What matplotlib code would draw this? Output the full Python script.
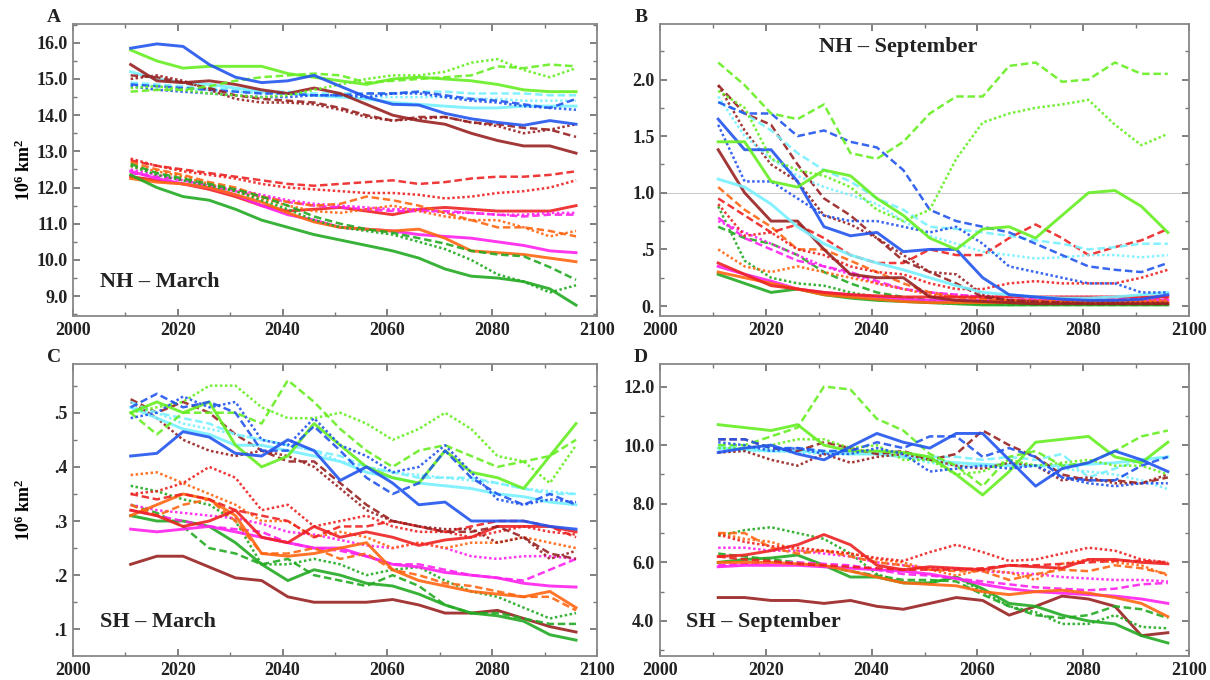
import matplotlib
matplotlib.use('Agg')
import matplotlib.pyplot as plt
from matplotlib.ticker import MultipleLocator, FuncFormatter

plt.rcParams['font.family'] = ['Liberation Serif', 'DejaVu Serif']
plt.rcParams['font.weight'] = 'bold'
plt.rcParams['mathtext.fontset'] = 'custom'
plt.rcParams['mathtext.rm'] = 'Liberation Serif:bold'
plt.rcParams['mathtext.bf'] = 'Liberation Serif:bold'
plt.rcParams['mathtext.default'] = 'bf'

years = list(range(2011, 2097, 5))   # 2011, 2016, ... 2096

colors = {'lime': '#66ee22', 'blue': '#2255ee', 'cyan': '#77f0ff', 'brown': '#992222',
          'red': '#ee2222', 'orange': '#ff6611', 'magenta': '#ff22ee', 'green': '#22aa22'}

# A: NH March
nh_march = {
    'red dash':      [12.75, 12.6, 12.5, 12.4, 12.3, 12.2, 12.1, 12.05, 12.1, 12.15, 12.2, 12.1, 12.15, 12.25, 12.3, 12.3, 12.35, 12.45],
    'red dot':       [12.8, 12.6, 12.45, 12.35, 12.25, 12.1, 12.0, 11.95, 11.9, 11.85, 11.85, 11.8, 11.7, 11.75, 11.85, 11.9, 12.0, 12.2],
    'red solid':     [12.3, 12.2, 12.1, 11.95, 11.75, 11.5, 11.35, 11.4, 11.45, 11.35, 11.25, 11.4, 11.45, 11.4, 11.35, 11.35, 11.35, 11.5],
    'magenta dash':  [12.4, 12.3, 12.2, 12.05, 11.9, 11.75, 11.6, 11.5, 11.45, 11.4, 11.35, 11.35, 11.35, 11.3, 11.25, 11.2, 11.25, 11.25],
    'magenta dot':   [12.5, 12.35, 12.2, 12.05, 11.95, 11.8, 11.65, 11.55, 11.5, 11.45, 11.4, 11.4, 11.3, 11.3, 11.25, 11.25, 11.3, 11.3],
    'magenta solid': [12.45, 12.25, 12.1, 12.0, 11.8, 11.5, 11.25, 11.1, 10.9, 10.85, 10.8, 10.7, 10.65, 10.6, 10.5, 10.4, 10.25, 10.2],
    'orange dash':   [12.7, 12.5, 12.35, 12.15, 12.0, 11.75, 11.6, 11.5, 11.55, 11.75, 11.65, 11.5, 11.3, 11.1, 10.9, 10.9, 10.8, 10.65],
    'orange dot':    [12.6, 12.45, 12.3, 12.1, 11.9, 11.7, 11.5, 11.35, 11.3, 11.4, 11.5, 11.35, 11.2, 11.1, 11.1, 10.9, 10.65, 10.8],
    'orange solid':  [12.25, 12.15, 12.1, 12.0, 11.8, 11.6, 11.3, 11.05, 10.9, 10.85, 10.8, 10.85, 10.6, 10.25, 10.2, 10.15, 10.05, 9.95],
    'green dash':    [12.65, 12.4, 12.25, 12.1, 11.95, 11.75, 11.5, 11.2, 11.0, 10.85, 10.75, 10.6, 10.45, 10.25, 10.15, 10.1, 9.8, 9.45],
    'green dot':     [12.6, 12.35, 12.2, 12.05, 11.9, 11.65, 11.4, 11.1, 10.9, 10.8, 10.7, 10.5, 10.3, 10.0, 9.6, 9.4, 9.1, 9.3],
    'green solid':   [12.35, 12.0, 11.75, 11.65, 11.4, 11.1, 10.9, 10.7, 10.55, 10.4, 10.25, 10.05, 9.75, 9.55, 9.5, 9.4, 9.2, 8.75],
    'cyan dash':     [14.9, 14.85, 14.8, 14.75, 14.7, 14.65, 14.65, 14.6, 14.6, 14.6, 14.6, 14.65, 14.65, 14.6, 14.6, 14.6, 14.55, 14.55],
    'cyan dot':      [14.85, 14.8, 14.75, 14.7, 14.65, 14.6, 14.6, 14.55, 14.55, 14.5, 14.5, 14.5, 14.5, 14.45, 14.45, 14.4, 14.4, 14.4],
    'cyan solid':    [15.2, 15.0, 14.9, 14.85, 14.75, 14.65, 14.6, 14.55, 14.5, 14.45, 14.35, 14.3, 14.25, 14.2, 14.2, 14.25, 14.25, 14.25],
    'blue dash':     [14.85, 14.8, 14.75, 14.7, 14.65, 14.6, 14.6, 14.55, 14.55, 14.6, 14.6, 14.65, 14.55, 14.45, 14.4, 14.3, 14.2, 14.45],
    'blue dot':      [14.8, 14.7, 14.65, 14.6, 14.55, 14.5, 14.5, 14.55, 14.55, 14.5, 14.6, 14.6, 14.5, 14.4, 14.35, 14.25, 14.2, 14.15],
    'brown dash':    [15.1, 15.05, 14.9, 14.75, 14.55, 14.45, 14.4, 14.35, 14.2, 14.0, 13.85, 13.95, 13.95, 13.8, 13.75, 13.65, 13.6, 13.4],
    'brown dot':     [15.0, 15.1, 14.95, 14.7, 14.45, 14.35, 14.35, 14.3, 14.15, 13.95, 13.85, 13.9, 13.95, 13.8, 13.7, 13.5, 13.6, 13.75],
    'brown solid':   [15.4, 14.95, 14.9, 14.95, 14.85, 14.7, 14.6, 14.75, 14.6, 14.3, 14.0, 13.85, 13.75, 13.5, 13.3, 13.15, 13.15, 12.95],
    'lime dash':     [14.65, 14.7, 14.7, 14.8, 14.95, 15.05, 15.1, 15.15, 15.1, 14.9, 14.95, 15.0, 15.05, 15.1, 15.35, 15.3, 15.4, 15.35],
    'lime dot':      [14.75, 14.8, 14.7, 14.6, 14.55, 14.5, 14.55, 14.7, 14.85, 15.0, 15.1, 15.1, 15.2, 15.45, 15.55, 15.25, 15.05, 15.3],
    'lime solid':    [15.8, 15.5, 15.3, 15.35, 15.35, 15.35, 15.15, 15.05, 14.95, 14.85, 15.0, 15.05, 15.0, 14.95, 14.85, 14.7, 14.65, 14.65],
    'blue solid':    [15.85, 15.97, 15.9, 15.4, 15.05, 14.9, 14.95, 15.1, 14.8, 14.5, 14.3, 14.28, 14.05, 13.9, 13.8, 13.72, 13.85, 13.75],
}

# B: NH September
nh_september = {
    'green solid':   [0.28, 0.2, 0.12, 0.15, 0.1, 0.07, 0.05, 0.04, 0.03, 0.02, 0.01, 0.01, 0.01, 0.01, 0.01, 0.01, 0.01, 0.01],
    'green dash':    [0.7, 0.6, 0.55, 0.45, 0.3, 0.2, 0.12, 0.08, 0.05, 0.03, 0.02, 0.01, 0.01, 0.01, 0.01, 0.01, 0.01, 0.01],
    'green dot':     [0.88, 0.4, 0.25, 0.2, 0.18, 0.12, 0.08, 0.05, 0.03, 0.02, 0.02, 0.02, 0.02, 0.02, 0.02, 0.02, 0.02, 0.02],
    'magenta solid': [0.35, 0.28, 0.22, 0.15, 0.12, 0.1, 0.08, 0.06, 0.05, 0.05, 0.05, 0.05, 0.05, 0.05, 0.05, 0.05, 0.05, 0.05],
    'magenta dash':  [0.78, 0.6, 0.5, 0.4, 0.35, 0.3, 0.22, 0.15, 0.12, 0.1, 0.08, 0.08, 0.07, 0.07, 0.07, 0.07, 0.07, 0.07],
    'magenta dot':   [0.75, 0.65, 0.55, 0.45, 0.35, 0.28, 0.2, 0.15, 0.12, 0.1, 0.08, 0.08, 0.08, 0.08, 0.08, 0.08, 0.08, 0.08],
    'orange solid':  [0.3, 0.25, 0.2, 0.15, 0.1, 0.08, 0.06, 0.04, 0.03, 0.03, 0.03, 0.03, 0.03, 0.03, 0.03, 0.03, 0.03, 0.03],
    'orange dash':   [1.05, 0.85, 0.7, 0.5, 0.5, 0.4, 0.3, 0.2, 0.12, 0.08, 0.06, 0.05, 0.04, 0.04, 0.04, 0.04, 0.04, 0.04],
    'orange dot':    [0.5, 0.35, 0.3, 0.35, 0.3, 0.25, 0.2, 0.15, 0.1, 0.08, 0.06, 0.05, 0.05, 0.05, 0.05, 0.05, 0.05, 0.05],
    'red solid':     [0.38, 0.28, 0.18, 0.15, 0.12, 0.1, 0.09, 0.08, 0.08, 0.08, 0.08, 0.08, 0.08, 0.08, 0.08, 0.08, 0.08, 0.08],
    'red dash':      [0.95, 0.8, 0.65, 0.72, 0.6, 0.45, 0.38, 0.38, 0.5, 0.45, 0.45, 0.6, 0.72, 0.6, 0.45, 0.52, 0.58, 0.68],
    'red dot':       [0.9, 0.62, 0.65, 0.5, 0.45, 0.35, 0.3, 0.28, 0.2, 0.15, 0.15, 0.2, 0.22, 0.2, 0.2, 0.2, 0.25, 0.32],
    'brown solid':   [1.38, 1.0, 0.75, 0.75, 0.5, 0.28, 0.25, 0.25, 0.08, 0.05, 0.04, 0.03, 0.02, 0.02, 0.02, 0.02, 0.02, 0.02],
    'brown dash':    [1.95, 1.7, 1.6, 1.25, 0.95, 0.8, 0.6, 0.4, 0.3, 0.2, 0.08, 0.05, 0.04, 0.03, 0.02, 0.02, 0.02, 0.02],
    'brown dot':     [1.95, 1.55, 1.25, 1.1, 0.8, 0.72, 0.6, 0.45, 0.3, 0.28, 0.1, 0.05, 0.04, 0.03, 0.03, 0.03, 0.03, 0.03],
    'cyan solid':    [1.12, 1.05, 0.9, 0.7, 0.55, 0.45, 0.38, 0.32, 0.25, 0.18, 0.12, 0.1, 0.08, 0.07, 0.07, 0.08, 0.1, 0.12],
    'cyan dash':     [1.8, 1.7, 1.55, 1.35, 1.2, 1.1, 0.95, 0.85, 0.7, 0.68, 0.65, 0.62, 0.58, 0.55, 0.5, 0.52, 0.55, 0.55],
    'cyan dot':      [1.85, 1.5, 1.3, 1.15, 1.05, 0.98, 0.9, 0.75, 0.62, 0.55, 0.48, 0.45, 0.42, 0.43, 0.45, 0.45, 0.43, 0.45],
    'blue dash':     [1.8, 1.7, 1.7, 1.5, 1.55, 1.45, 1.4, 1.2, 0.85, 0.75, 0.7, 0.65, 0.55, 0.45, 0.35, 0.32, 0.3, 0.38],
    'blue dot':      [1.6, 1.1, 1.1, 0.95, 0.8, 0.75, 0.75, 0.7, 0.65, 0.7, 0.55, 0.35, 0.3, 0.25, 0.2, 0.2, 0.12, 0.12],
    'blue solid':    [1.65, 1.38, 1.38, 1.1, 0.7, 0.62, 0.65, 0.48, 0.5, 0.5, 0.25, 0.1, 0.08, 0.06, 0.05, 0.05, 0.06, 0.1],
    'lime dash':     [2.15, 1.95, 1.7, 1.65, 1.78, 1.35, 1.3, 1.45, 1.7, 1.85, 1.85, 2.12, 2.15, 1.98, 2.0, 2.15, 2.05, 2.05],
    'lime dot':      [1.9, 1.75, 1.3, 1.2, 1.15, 1.05, 0.85, 0.75, 0.85, 1.3, 1.62, 1.7, 1.75, 1.78, 1.82, 1.6, 1.42, 1.52],
    'lime solid':    [1.45, 1.45, 1.1, 1.05, 1.2, 1.15, 0.95, 0.8, 0.6, 0.5, 0.68, 0.7, 0.6, 0.8, 1.0, 1.02, 0.88, 0.65],
}

# C: SH March
sh_march = {
    'brown solid':   [0.22, 0.235, 0.235, 0.215, 0.195, 0.19, 0.16, 0.15, 0.15, 0.15, 0.155, 0.145, 0.13, 0.13, 0.135, 0.12, 0.105, 0.095],
    'green solid':   [0.31, 0.3, 0.3, 0.29, 0.26, 0.22, 0.19, 0.21, 0.2, 0.185, 0.18, 0.165, 0.145, 0.13, 0.125, 0.115, 0.09, 0.08],
    'green dash':    [0.33, 0.315, 0.29, 0.25, 0.24, 0.22, 0.23, 0.2, 0.19, 0.18, 0.2, 0.18, 0.145, 0.13, 0.13, 0.12, 0.11, 0.11],
    'green dot':     [0.365, 0.355, 0.34, 0.33, 0.3, 0.22, 0.22, 0.23, 0.22, 0.2, 0.21, 0.215, 0.19, 0.17, 0.16, 0.14, 0.12, 0.13],
    'magenta solid': [0.285, 0.28, 0.285, 0.29, 0.28, 0.27, 0.26, 0.25, 0.25, 0.235, 0.22, 0.215, 0.205, 0.2, 0.195, 0.185, 0.18, 0.178],
    'magenta dash':  [0.32, 0.31, 0.3, 0.29, 0.285, 0.28, 0.26, 0.25, 0.245, 0.235, 0.22, 0.22, 0.21, 0.2, 0.195, 0.19, 0.21, 0.23],
    'magenta dot':   [0.33, 0.32, 0.315, 0.31, 0.305, 0.295, 0.28, 0.275, 0.265, 0.255, 0.25, 0.26, 0.25, 0.235, 0.23, 0.235, 0.235, 0.23],
    'orange solid':  [0.31, 0.33, 0.35, 0.34, 0.31, 0.24, 0.235, 0.24, 0.25, 0.26, 0.21, 0.19, 0.18, 0.17, 0.165, 0.16, 0.17, 0.14],
    'orange dash':   [0.33, 0.31, 0.33, 0.34, 0.3, 0.24, 0.24, 0.25, 0.23, 0.24, 0.21, 0.2, 0.185, 0.18, 0.17, 0.16, 0.16, 0.135],
    'orange dot':    [0.385, 0.39, 0.37, 0.35, 0.33, 0.3, 0.3, 0.27, 0.28, 0.27, 0.25, 0.26, 0.25, 0.26, 0.26, 0.27, 0.26, 0.25],
    'red solid':     [0.32, 0.31, 0.29, 0.3, 0.32, 0.27, 0.26, 0.29, 0.27, 0.28, 0.27, 0.255, 0.265, 0.27, 0.29, 0.29, 0.29, 0.28],
    'red dash':      [0.35, 0.34, 0.35, 0.34, 0.32, 0.31, 0.3, 0.27, 0.29, 0.29, 0.3, 0.29, 0.28, 0.29, 0.3, 0.3, 0.29, 0.27],
    'red dot':       [0.35, 0.355, 0.37, 0.4, 0.38, 0.32, 0.33, 0.29, 0.3, 0.31, 0.29, 0.28, 0.28, 0.27, 0.28, 0.29, 0.28, 0.275],
    'brown dash':    [0.525, 0.5, 0.52, 0.5, 0.46, 0.43, 0.41, 0.41, 0.37, 0.33, 0.3, 0.29, 0.28, 0.28, 0.29, 0.27, 0.24, 0.23],
    'brown dot':     [0.52, 0.49, 0.45, 0.43, 0.42, 0.43, 0.42, 0.4, 0.36, 0.32, 0.3, 0.29, 0.285, 0.285, 0.26, 0.27, 0.23, 0.245],
    'cyan solid':    [0.51, 0.49, 0.47, 0.46, 0.44, 0.44, 0.43, 0.42, 0.41, 0.39, 0.38, 0.37, 0.365, 0.36, 0.35, 0.345, 0.335, 0.33],
    'cyan dash':     [0.52, 0.5, 0.49, 0.48, 0.46, 0.45, 0.44, 0.43, 0.42, 0.4, 0.39, 0.38, 0.38, 0.38, 0.37, 0.36, 0.35, 0.35],
    'cyan dot':      [0.51, 0.5, 0.48, 0.47, 0.46, 0.45, 0.44, 0.43, 0.41, 0.4, 0.39, 0.385, 0.38, 0.375, 0.37, 0.36, 0.355, 0.35],
    'lime dash':     [0.5, 0.46, 0.5, 0.5, 0.5, 0.48, 0.56, 0.52, 0.47, 0.43, 0.4, 0.43, 0.44, 0.42, 0.4, 0.41, 0.42, 0.45],
    'lime dot':      [0.5, 0.51, 0.52, 0.55, 0.55, 0.51, 0.49, 0.49, 0.5, 0.48, 0.45, 0.47, 0.5, 0.47, 0.42, 0.41, 0.37, 0.44],
    'lime solid':    [0.5, 0.52, 0.5, 0.52, 0.44, 0.4, 0.42, 0.48, 0.44, 0.4, 0.38, 0.37, 0.43, 0.39, 0.38, 0.36, 0.42, 0.48],
    'blue dash':     [0.51, 0.535, 0.51, 0.52, 0.5, 0.43, 0.43, 0.475, 0.43, 0.38, 0.35, 0.37, 0.43, 0.38, 0.35, 0.33, 0.35, 0.33],
    'blue dot':      [0.49, 0.5, 0.53, 0.51, 0.52, 0.45, 0.44, 0.49, 0.44, 0.42, 0.39, 0.4, 0.44, 0.39, 0.34, 0.33, 0.34, 0.335],
    'blue solid':    [0.42, 0.425, 0.465, 0.455, 0.425, 0.42, 0.45, 0.43, 0.375, 0.4, 0.37, 0.33, 0.335, 0.3, 0.3, 0.3, 0.29, 0.285],
}

# D: SH September
sh_september = {
    'brown solid':   [4.8, 4.8, 4.7, 4.7, 4.6, 4.7, 4.5, 4.4, 4.6, 4.8, 4.7, 4.2, 4.5, 4.85, 4.75, 4.5, 3.5, 3.6],
    'green solid':   [6.0, 6.1, 6.15, 6.25, 5.9, 5.5, 5.5, 5.3, 5.3, 5.5, 5.1, 4.6, 4.5, 4.2, 4.0, 3.9, 3.5, 3.25],
    'green dash':    [6.3, 6.2, 6.1, 6.0, 5.85, 5.7, 5.55, 5.4, 5.4, 5.35, 4.9, 4.5, 4.2, 4.1, 4.2, 4.5, 4.4, 4.1],
    'green dot':     [6.9, 7.1, 7.2, 7.0, 6.8, 6.3, 5.6, 5.3, 5.3, 5.5, 5.0, 4.5, 4.3, 3.9, 3.9, 4.2, 3.8, 3.75],
    'magenta solid': [5.85, 5.9, 5.9, 5.9, 5.85, 5.8, 5.75, 5.7, 5.6, 5.45, 5.25, 5.1, 5.0, 4.95, 4.9, 4.85, 4.75, 4.6],
    'magenta dash':  [5.9, 5.95, 6.0, 6.0, 5.95, 5.9, 5.75, 5.6, 5.55, 5.45, 5.35, 5.25, 5.15, 5.1, 5.05, 5.1, 5.25, 5.3],
    'magenta dot':   [6.5, 6.5, 6.4, 6.4, 6.3, 6.2, 6.0, 5.9, 5.8, 5.8, 5.7, 5.65, 5.6, 5.5, 5.45, 5.4, 5.4, 5.35],
    'orange solid':  [6.0, 6.0, 6.0, 5.95, 5.9, 5.7, 5.5, 5.3, 5.25, 5.2, 5.0, 4.9, 5.0, 5.05, 4.95, 4.8, 4.6, 4.15],
    'orange dash':   [7.0, 7.0, 6.5, 6.3, 6.4, 6.2, 6.0, 5.9, 5.75, 5.7, 5.7, 5.4, 5.6, 5.75, 5.7, 5.9, 5.8, 5.6],
    'orange dot':    [7.0, 6.8, 6.7, 6.4, 6.4, 6.3, 6.1, 6.0, 5.75, 5.55, 5.75, 5.65, 5.4, 5.95, 6.1, 6.0, 5.9, 5.55],
    'red dash':      [6.2, 6.1, 6.05, 5.95, 5.9, 5.85, 5.8, 5.75, 5.75, 5.75, 5.8, 5.9, 5.9, 5.95, 6.0, 6.05, 6.05, 6.0],
    'red dot':       [6.95, 6.7, 6.55, 6.5, 6.4, 6.3, 6.15, 6.05, 6.35, 6.6, 6.35, 6.05, 6.1, 6.3, 6.5, 6.4, 6.1, 6.0],
    'red solid':     [6.2, 6.25, 6.4, 6.6, 6.95, 6.6, 5.9, 5.75, 5.85, 5.8, 5.75, 5.9, 5.85, 5.8, 6.1, 6.1, 6.0, 5.95],
    'cyan solid':    [9.9, 9.85, 9.8, 9.8, 9.75, 9.7, 9.7, 9.6, 9.5, 9.4, 9.35, 9.3, 9.3, 9.3, 9.35, 9.4, 9.5, 9.6],
    'cyan dash':     [10.0, 9.9, 9.9, 9.9, 9.8, 9.8, 9.8, 9.7, 9.6, 9.6, 9.5, 9.6, 9.5, 9.7, 8.9, 9.2, 9.5, 9.6],
    'cyan dot':      [9.85, 9.8, 9.8, 9.75, 9.7, 9.7, 9.7, 9.6, 9.4, 9.3, 9.3, 9.35, 9.3, 9.2, 9.1, 9.0, 8.8, 8.5],
    'brown dash':    [10.2, 10.2, 9.9, 9.8, 10.1, 9.9, 9.7, 9.8, 9.5, 9.7, 10.5, 10.0, 9.6, 9.0, 8.8, 8.8, 8.7, 8.9],
    'brown dot':     [9.75, 9.8, 9.5, 9.3, 9.7, 9.4, 9.6, 9.7, 9.5, 9.3, 9.2, 9.4, 9.3, 8.8, 8.9, 8.7, 8.7, 9.0],
    'lime dot':      [9.9, 9.9, 10.0, 10.2, 10.2, 9.9, 10.0, 9.5, 9.5, 9.0, 9.1, 9.5, 9.3, 9.4, 9.5, 9.3, 9.3, 9.0],
    'lime dash':     [10.0, 10.0, 10.3, 10.6, 12.0, 11.9, 10.9, 10.5, 9.7, 9.3, 8.6, 9.6, 9.8, 9.3, 9.4, 9.8, 10.3, 10.5],
    'lime solid':    [10.7, 10.6, 10.5, 10.7, 10.0, 9.8, 9.8, 9.75, 9.6, 9.0, 8.3, 9.1, 10.1, 10.2, 10.3, 9.6, 9.4, 10.1],
    'blue dash':     [10.2, 10.2, 9.9, 9.9, 9.8, 9.8, 10.1, 9.9, 10.3, 10.3, 9.6, 9.9, 9.6, 8.9, 8.8, 8.8, 9.3, 9.6],
    'blue dot':      [10.1, 10.0, 9.8, 9.9, 9.7, 9.7, 9.9, 9.7, 9.1, 9.2, 9.3, 9.2, 9.3, 8.9, 8.7, 8.6, 8.7, 8.7],
    'blue solid':    [9.75, 9.9, 10.0, 9.7, 9.5, 9.95, 10.4, 10.1, 9.9, 10.4, 10.4, 9.5, 8.6, 9.2, 9.4, 9.8, 9.5, 9.1],
}

line_kw = {
    'solid': dict(linestyle='-', linewidth=2.1),
    'dash': dict(linestyle=(0, (3.0, 1.5)), linewidth=1.8),
    'dot': dict(linestyle=(0, (1.0, 1.0)), linewidth=1.8),
}


def fmt(v, pos):
    s = f'{v:.1f}'
    if s == '0.0':
        return '0.'
    if s.startswith('0.'):
        return s[1:]
    return s


fig = plt.figure(figsize=(12.1, 6.8), dpi=100)

panels = [
    # data, letter, title, title xy, rect, ylim, major, minor
    (nh_march, 'A', 'NH \u2013 March', (0.052, 0.115), [73/1210, 1-316/680, 524/1210, 292/680], (8.45, 16.52), 1.0, 0.5),
    (nh_september, 'B', 'NH \u2013 September', (0.30, 0.92), [660/1210, 1-316/680, 529/1210, 292/680], (-0.088, 2.49), 0.5, 0.25),
    (sh_march, 'C', 'SH \u2013 March', (0.052, 0.115), [73/1210, 1-656/680, 524/1210, 292/680], (0.0507, 0.59), 0.1, 0.05),
    (sh_september, 'D', 'SH \u2013 September', (0.05, 0.115), [660/1210, 1-656/680, 529/1210, 292/680], (2.805, 12.77), 2.0, 1.0),
]

for data, letter, title, txy, rect, ylim, major, minor in panels:
    ax = fig.add_axes(rect)
    if letter == 'B':
        ax.axhline(1.0, color='#cccccc', linewidth=0.8, zorder=0)
    for key, vals in data.items():
        cname, style = key.split()
        ax.plot(years, vals, color=colors[cname], alpha=0.9, **line_kw[style])
    ax.set_xlim(2000, 2100)
    ax.set_ylim(*ylim)
    ax.xaxis.set_major_locator(MultipleLocator(20))
    ax.xaxis.set_minor_locator(MultipleLocator(10))
    ax.yaxis.set_major_locator(MultipleLocator(major))
    ax.yaxis.set_minor_locator(MultipleLocator(minor))
    ax.yaxis.set_major_formatter(FuncFormatter(fmt))
    ax.tick_params(which='both', direction='in', top=True, right=True, color='#777777',
                   labelsize=13, labelcolor='#222222')
    ax.tick_params(which='major', length=5, width=1.3, pad=4)
    ax.tick_params(which='minor', length=3, width=1.0)
    for sp in ax.spines.values():
        sp.set_color('#888888')
        sp.set_linewidth(1.3)
    for lab in ax.get_xticklabels() + ax.get_yticklabels():
        lab.set_fontweight('bold')
    ax.text(txy[0], txy[1], title, transform=ax.transAxes, fontsize=16,
            fontweight='bold', color='#222222', va='center')
    if letter in ('A', 'C'):
        ax.set_ylabel('10$^6$ km$^2$', fontsize=13, fontweight='bold')
        ax.yaxis.set_label_coords(-39/524, 0.5)
    fig.text(rect[0] - 19/1210, rect[1] + rect[3] + 7/680, letter, fontsize=14,
             fontweight='bold', color='#222222', ha='center', va='center')

fig.savefig('out.png', dpi=100)
